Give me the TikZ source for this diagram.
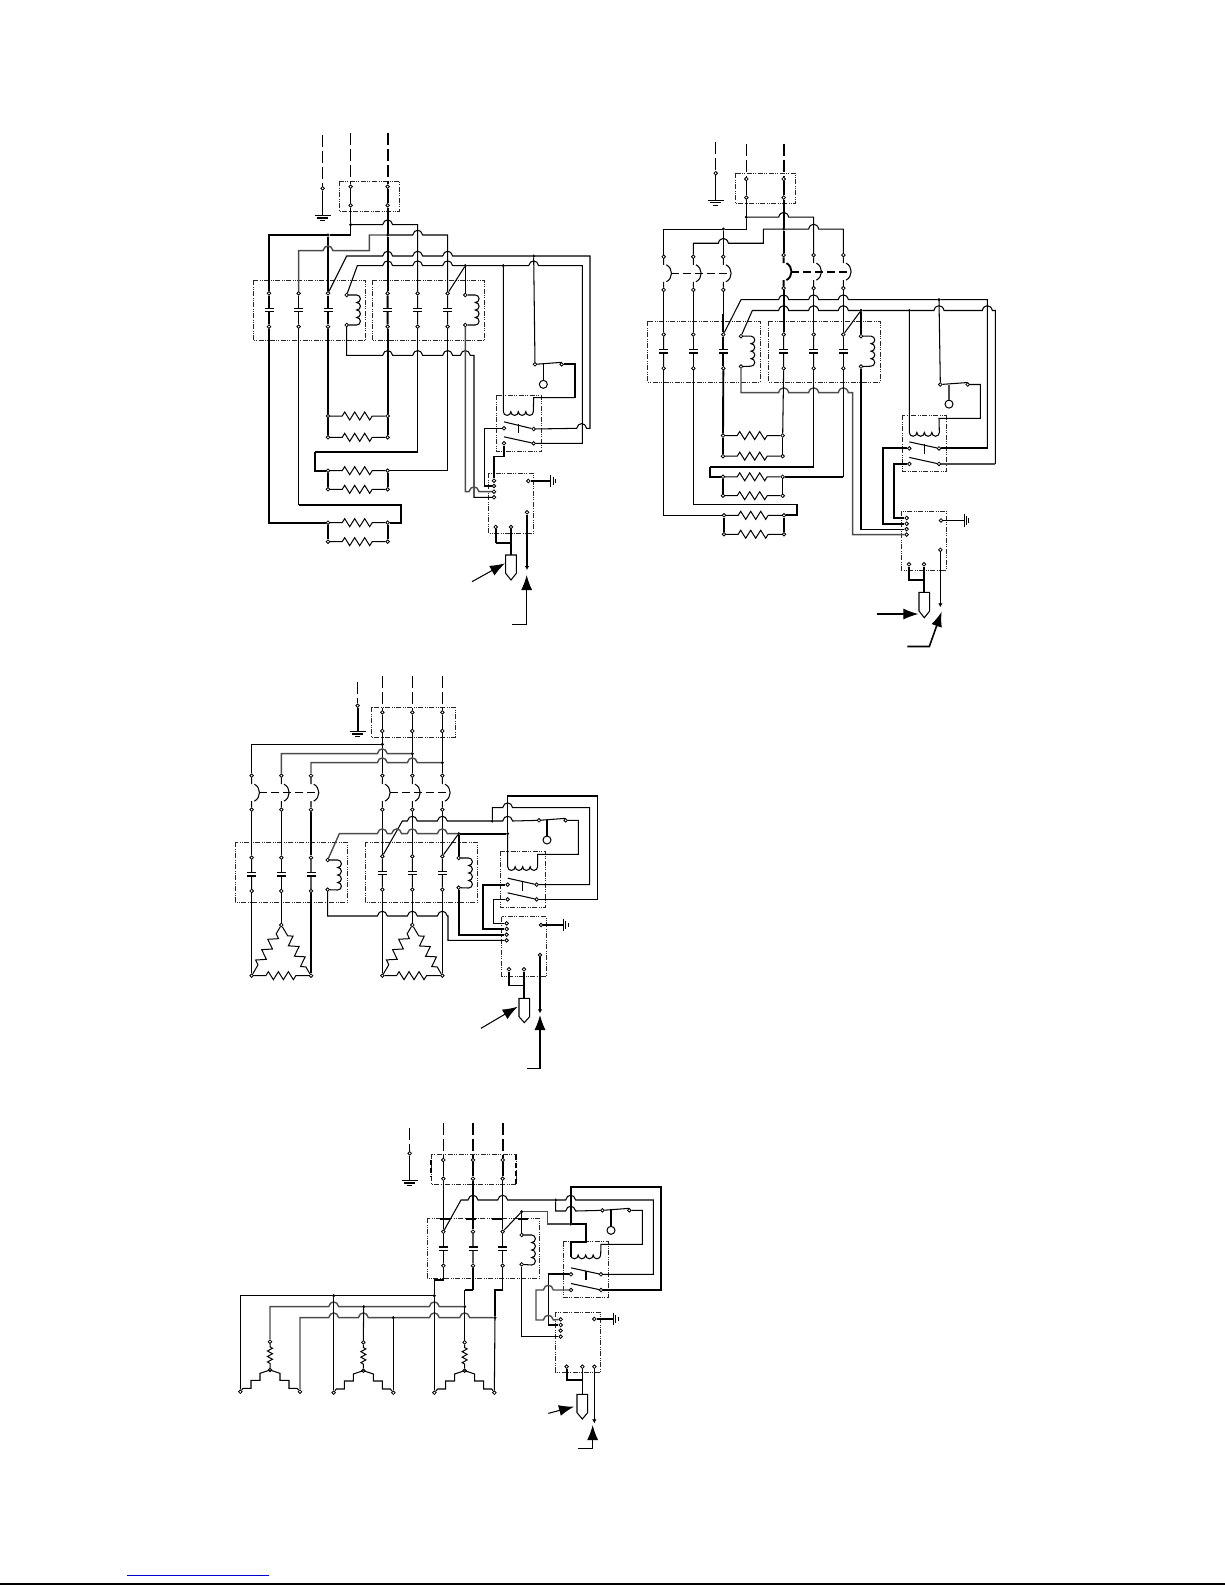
\documentclass[tikz,border=0pt]{standalone}
\usepackage{amsmath}
\usepackage{tikz}
\usetikzlibrary{arrows.meta,calc,decorations.pathmorphing}
\tikzset{
	term/.style     = {draw, circle, fill = white, inner sep = 0pt, minimum size = 3.6pt, line width = 0.8pt},
	jdot/.style     = {draw, circle, fill = black, inner sep = 0pt, minimum size = 2.6pt},
	lamp/.style     = {draw, circle, inner sep = 0pt, minimum size = 8pt, line width = 1pt},
	wire/.style     = {line width = 1.05pt},
	boldw/.style    = {line width = 1.9pt},
	greyw/.style    = {line width = 1.4pt, color = black!70},
	feed/.style     = {line width = 1.05pt, dash pattern = on 12pt off 4pt},
	feedb/.style    = {line width = 1.8pt, dash pattern = on 12pt off 4pt},
	boxd/.style     = {line width = 0.55pt, color = black!85, dash pattern = on 5pt off 1.5pt on 1pt off 1pt on 1pt off 1.5pt},
	boxb/.style     = {line width = 1.7pt},
	linkd/.style    = {line width = 1pt, dash pattern = on 8pt off 4pt},
	linkb/.style    = {line width = 1.8pt, dash pattern = on 8pt off 4pt},
	zig/.style      = {line width = 1pt, decorate, decoration = {zigzag, segment length = 10pt, amplitude = 4pt, pre length = 12pt, post length = 12pt}},
	zigd/.style     = {line width = 1pt, decorate, decoration = {zigzag, segment length = 12pt, amplitude = 4.5pt, pre length = 8pt, post length = 8pt}},
	zigs/.style     = {line width = 1pt, decorate, decoration = {zigzag, segment length = 5.5pt, amplitude = 2.5pt, pre length = 3pt, post length = 3pt}},
	bigarr/.style   = {line width = 1.05pt, -{Latex[length = 15pt, width = 11pt]}},
	bigarb/.style   = {line width = 1.6pt, -{Latex[length = 15pt, width = 11pt]}},
	smallarr/.style = {line width = 1.05pt, -{Latex[length = 4pt, width = 4.5pt]}},
	panel/.style    = {x = 0.33333pt, y = -0.33333pt},
	panelb/.style   = {x = 0.33333pt, y = -0.338pt}
}
\newcommand{\tm}[3]{\node[term] (#1) at (#2,#3) {};}
\newcommand{\jd}[3]{\node[jdot] (#1) at (#2,#3) {};}
\newcommand{\hop}[2]{-- ({#1-15},#2) .. controls ({#1-11},{#2-19}) and ({#1+11},{#2-19}) .. ({#1+15},#2)}
\newcommand{\hopl}[2]{-- ({#1+15},#2) .. controls ({#1+11},{#2-19}) and ({#1-11},{#2-19}) .. ({#1-15},#2)}
\newcommand{\capbr}[3][wire]{%
	\draw[#1] (#2) -- ($(#2)!.5!(#3)+(0,1.7pt)$) (#3) -- ($(#2)!.5!(#3)-(0,1.7pt)$);
	\draw[line width = 1.5pt] ($(#2)!.5!(#3)+(-4.5pt,1.7pt)$) -- ++(9pt,0) ($(#2)!.5!(#3)+(-4.5pt,-1.7pt)$) -- ++(9pt,0);}
\newcommand{\breaker}[3][wire]{%
	\coordinate (#2m) at ($(#2)!.5!(#3)$);
	\coordinate (#2k) at ($(#2m)+(7.5pt,0)$);
	\draw[#1] (#2) -- ($(#2m)+(0,8.5pt)$) (#3) -- ($(#2m)-(0,8.5pt)$)
	($(#2m)+(2.7pt,8.5pt)$) .. controls ($(#2m)+(9.5pt,5pt)$) and ($(#2m)+(9.5pt,-5pt)$) .. ($(#2m)+(2.7pt,-8.5pt)$);}
\newcommand{\coilv}[2]{%
	\draw[wire] (#1) -- ++(10pt,0) arc[start angle = 90, end angle = -90, radius = 3.75pt]
	arc[start angle = 90, end angle = -90, radius = 3.75pt]
	arc[start angle = 90, end angle = -90, radius = 3.75pt]
	arc[start angle = 90, end angle = -90, radius = 3.75pt] -- (#2);}
\newcommand{\hcoil}{arc[start angle = 180, end angle = 360, radius = 3.75pt] arc[start angle = 180, end angle = 360, radius = 3.75pt] arc[start angle = 180, end angle = 360, radius = 3.75pt] arc[start angle = 180, end angle = 360, radius = 3.75pt]}
\newcommand{\blade}[2]{\draw[wire] ($(#1)+(0,6.5pt)$) -- (#2);}
\newcommand{\gndd}[2]{\draw[wire] ({#1-24},#2) -- ({#1+24},#2) ({#1-16},{#2+7}) -- ({#1+16},{#2+7}) ({#1-8},{#2+14}) -- ({#1+8},{#2+14});}
\newcommand{\gndr}[2]{\draw[line width = 0.7pt] (#1,{#2-19}) -- (#1,{#2+19}) ({#1+7},{#2-13}) -- ({#1+7},{#2+13}) ({#1+14},{#2-7}) -- ({#1+14},{#2+7});}
\newcommand{\fuse}[3]{%
	\draw[wire] ({#1-16},#2) -- ({#1+16},#2) -- ({#1+16},{#2+55}) -- (#1,#3) -- ({#1-16},{#2+55}) -- cycle;}
\newcommand{\res}[2]{\draw[zig] (#1) -- (#2);}
\newcommand{\stairs}[3]{\draw[wire] (#1.center) -- ++({#3*10pt},-3.3pt) -- ++(0,-7pt) -- ++({#3*9pt},0) -- ++(0,-8pt) -- ++({#3*8pt},0) -- (#2);}

\begin{document}
\begin{tikzpicture}
	\useasboundingbox (0pt,0pt) rectangle (1225pt,-1585pt);

	% first panel
	\begin{scope}[shift = {(240pt,-120pt)}, panel, name prefix = a-]
	\tm{g}{248}{205} \tm{s1}{332}{200} \tm{s2}{332}{256} \tm{s3}{443}{200} \tm{s4}{443}{256}
	\tm{k1t}{87}{520} \tm{k2t}{176}{520} \tm{k3t}{264}{520} \tm{k4t}{443}{520} \tm{k5t}{533}{520} \tm{k6t}{623}{520}
	\tm{k1b}{87}{620} \tm{k2b}{176}{620} \tm{k3b}{264}{620} \tm{k4b}{443}{620} \tm{k5b}{533}{620} \tm{k6b}{623}{620}
	\tm{c1t}{320}{525} \tm{c1b}{320}{615} \tm{c2t}{676}{525} \tm{c2b}{676}{615}
	\tm{r1l}{264}{888} \tm{r1r}{443}{888} \tm{r2l}{264}{952} \tm{r2r}{443}{952}
	\tm{r3l}{264}{1052} \tm{r3r}{443}{1052} \tm{r4l}{264}{1108} \tm{r4r}{443}{1108}
	\tm{r5l}{264}{1208} \tm{r5r}{443}{1208} \tm{r6l}{264}{1265} \tm{r6r}{443}{1265}
	\tm{q1}{885}{733} \tm{q2}{965}{733} \node[lamp] (lp) at (910,793) {};
	\tm{u1}{792}{925} \tm{u2}{881}{927} \tm{u3}{792}{970} \tm{u4}{881}{970}
	\tm{x1}{762}{1082} \tm{x2}{762}{1098} \tm{x3}{762}{1115} \tm{x4}{762}{1132}
	\tm{y1}{865}{1083} \tm{y2}{861}{1177} \tm{y3}{767}{1221} \tm{y4}{813}{1221}
	\jd{j1}{332}{314} \jd{j2}{264}{345} \jd{j3}{443}{345} \jd{j4}{881}{408} \jd{j5}{676}{437} \jd{j6}{790}{437}
	\coordinate (fu) at (813,1305);
	\coordinate (f1) at (248,45); \coordinate (f2) at (332,40); \coordinate (f3) at (443,40);

	\draw[boxd] (298,183) rectangle (478,274);
	\draw[boxd] (40,480) rectangle (377,662);
	\draw[boxd] (397,480) rectangle (734,662);
	\draw[boxd] (768,826) rectangle (905,995);
	\draw[boxd] (745,1060) rectangle (880,1241);

	\draw[feed] (f1) -- (g); \draw[feed] (f2) -- (s1); \draw[feedb] (f3) -- (s3);
	\draw[wire] (g) -- (248,287); \gndd{248}{287}
	\draw[wire] (s1) -- (s2); \draw[boldw] (s3) -- (s4);
	\draw[wire] (s2) -- (j1); \draw[boldw] (s4) -- (j3);
	\draw[wire] (j1) |- (j2);
	\draw[boldw] (j2) -| (k1t);
	\draw[wire] (j2) -- (k3t);
	\draw[wire] (j1) \hop{443}{314} -| (k5t);
	\draw[greyw] (j3) -- (388,345) -- (388,392) \hopl{264}{392} -| (k2t);
	\draw[wire] (j3) \hop{533}{345} -| (k6t);
	\draw[boldw] (j3) -- (k4t);
	\draw[wire] (k3t) -- (320,408) \hop{443}{408} \hop{533}{408} \hop{623}{408} -- (j4) -- (1050,408) -- (1050,925) \hopl{1025}{925} -- (u2);
	\draw[wire] (c1t) -- (352,437) \hop{443}{437} \hop{533}{437} \hop{623}{437} -- (j5) -- (j6) \hop{881}{437} -- (1027,437) |- (u4);
	\draw[wire] (j5) -- (k6t); \draw[wire] (j5) -- (c2t);
	\capbr[boldw]{k1t}{k1b} \capbr{k2t}{k2b} \capbr{k3t}{k3b} \capbr[boldw]{k4t}{k4b} \capbr{k5t}{k5b} \capbr{k6t}{k6b}
	\coilv{c1t}{c1b} \coilv{c2t}{c2b}
	\draw[wire] (c1b) -- (320,706) \hop{443}{706} \hop{533}{706} \hop{623}{706} \hop{676}{706} -- (702,706) |- (x4);
	\draw[greyw] (c2b) -- (676,1115) \hop{702}{1115} -- (x3);
	\draw[boldw] (k1b) |- (r5l);
	\draw[wire] (k2b) -- (176,1155);
	\draw[boldw] (176,1155) -- (484,1155) |- (r5r);
	\draw[wire] (k3b) -- (r1l); \draw[boldw] (k4b) -- (r1r);
	\draw[wire] (r1l) -- (r2l); \draw[boldw] (r1r) -- (r2r);
	\draw[wire] (k5b) -- (533,996) -- (224,996);
	\draw[boldw] (224,996) |- (r3l);
	\draw[wire] (k6b) |- (r3r);
	\draw[wire] (r3l) -- (r4l); \draw[boldw] (r3r) -- (r4r);
	\draw[wire] (r5l) -- (r6l); \draw[boldw] (r5r) -- (r6r);
	\res{r1l}{r1r} \res{r2l}{r2r} \res{r3l}{r3r} \res{r4l}{r4r} \res{r5l}{r5r} \res{r6l}{r6r}
	\draw[wire] (j4) -- (q1); \draw[wire] (q1) -- ($(q2)+(0,2pt)$);
	\draw[wire] (lp |- q1) -- (lp);
	\draw[wire] (j6) -- (790,875) \hcoil -- (881,833) -- (1005,833);
	\draw[boldw] (1005,833) |- (q2);
	\blade{u1}{u2} \blade{u3}{u4} \draw[wire] (835,913) -- (835,940);
	\draw[wire] (u1) -- (733,925) |- (x2);
	\draw[wire] (u3) -- (792,1010) -- (762,1010) -- (x1);
	\draw[wire] (y1) -- (932,1083); \gndr{932}{1083}
	\draw[boldw] (y3) -- (767,1270); \draw[boldw] (767,1270) -- (813,1270);
	\draw[wire] (y4) -- (fu);
	\fuse{813}{1305}{1380}
	\draw[smallarr] (y2) -- (861,1350);
	\coordinate (p1) at (696,1385); \coordinate (p2) at (795,1330);
	\coordinate (p3) at (817,1513); \coordinate (p4) at (860,1513); \coordinate (p5) at (860,1365);
	\draw[bigarr] (p1) -- (p2);
	\draw[bigarr] (p3) -- (p4) -- (p5);
	\end{scope}

	% second panel
	\begin{scope}[shift = {(630pt,-130pt)}, panelb, name prefix = b-]
	\tm{g}{257}{128} \tm{s1}{349}{145} \tm{s2}{349}{200} \tm{s3}{461}{145} \tm{s4}{461}{200}
	\tm{m1t}{101}{375} \tm{m2t}{190}{375} \tm{m3t}{280}{375} \tm{m4t}{461}{370} \tm{m5t}{551}{370} \tm{m6t}{640}{370}
	\tm{m1b}{101}{473} \tm{m2b}{190}{473} \tm{m3b}{280}{473} \tm{m4b}{461}{468} \tm{m5b}{551}{468} \tm{m6b}{640}{468}
	\tm{k1t}{101}{605} \tm{k2t}{190}{605} \tm{k3t}{280}{605} \tm{k4t}{461}{605} \tm{k5t}{551}{605} \tm{k6t}{640}{605}
	\tm{k1b}{101}{705} \tm{k2b}{190}{705} \tm{k3b}{280}{705} \tm{k4b}{461}{705} \tm{k5b}{551}{705} \tm{k6b}{640}{705}
	\tm{c1t}{333}{610} \tm{c1b}{333}{700} \tm{c2t}{693}{610} \tm{c2b}{693}{700}
	\tm{r1l}{279}{904} \tm{r1r}{458}{904} \tm{r2l}{279}{965} \tm{r2r}{458}{965}
	\tm{r3l}{279}{1026} \tm{r3r}{458}{1026} \tm{r4l}{279}{1082} \tm{r4r}{458}{1082}
	\tm{r5l}{282}{1140} \tm{r5r}{462}{1140} \tm{r6l}{282}{1196} \tm{r6r}{462}{1196}
	\tm{q1}{931}{753} \tm{q2}{1013}{753} \node[lamp] (lp) at (957,811) {};
	\tm{u1}{838}{942} \tm{u2}{927}{942} \tm{u3}{838}{988} \tm{u4}{927}{988}
	\tm{x1}{830}{1148} \tm{x2}{830}{1165} \tm{x3}{830}{1181} \tm{x4}{830}{1197}
	\tm{y1}{933}{1155} \tm{y2}{931}{1242} \tm{y3}{837}{1285} \tm{y4}{882}{1285}
	\jd{j1}{349}{258} \jd{j2}{280}{293} \jd{j3}{461}{293} \jd{j4}{927}{502} \jd{j5}{693}{534} \jd{j6}{838}{534}
	\coordinate (fu) at (882,1368);
	\coordinate (f1) at (257,35); \coordinate (f2) at (349,40); \coordinate (f3) at (461,40);

	\draw[boxd] (317,128) rectangle (497,218);
	\draw[boxd] (52,566) rectangle (391,745);
	\draw[boxd] (415,566) rectangle (752,745);
	\draw[boxd] (817,844) rectangle (950,1010);
	\draw[boxd] (814,1128) rectangle (950,1303);

	\draw[feed] (f1) -- (g); \draw[feed] (f2) -- (s1); \draw[feedb] (f3) -- (s3);
	\draw[wire] (g) -- (257,208); \gndd{257}{208}
	\draw[wire] (s1) -- (s2); \draw[boldw] (s3) -- (s4);
	\draw[wire] (s2) -- (j1); \draw[boldw] (s4) -- (j3);
	\draw[wire] (j1) |- (j2);
	\draw[wire] (j2) -| (m1t);
	\draw[wire] (j2) -- (m3t);
	\draw[wire] (j1) \hop{461}{258} -| (m5t);
	\draw[wire] (j3) -- (400,293) -- (400,335) \hopl{280}{335} -| (m2t);
	\draw[wire] (j3) \hop{551}{293} -| (m6t);
	\draw[boldw] (j3) -- (m4t);
	\breaker{m1t}{m1b} \breaker{m2t}{m2b} \breaker{m3t}{m3b}
	\breaker[boldw]{m4t}{m4b} \breaker{m5t}{m5b} \breaker{m6t}{m6b}
	\draw[linkd] (m1tk) -- (m2tk) -- (m3tk);
	\draw[linkb] (m4tk) -- (m5tk) -- (m6tk);
	\draw[wire] (m1b) -- (k1t); \draw[wire] (m2b) -- (k2t); \draw[wire] (m3b) -- (k3t);
	\draw[boldw] (280,545) -- (k3t);
	\draw[boldw] (m4b) -- (k4t); \draw[wire] (m5b) -- (k5t); \draw[wire] (m6b) -- (k6t);
	\draw[wire] (k3t) -- (333,502) \hop{461}{502} \hop{551}{502} \hop{640}{502} -- (j4) -- (1072,502) |- (u2);
	\draw[boldw] (u2) -- (1072,942);
	\draw[wire] (c1t) -- (367,534) \hop{461}{534} \hop{551}{534} \hop{640}{534} -- (j5) -- (j6) \hop{927}{534} \hop{1072}{534} -- (1096,534) -- (1096,988);
	\draw[greyw] (1096,988) -- (u4);
	\draw[wire] (j5) -- (k6t); \draw[boldw] (j5) -- (693,605) -- (c2t);
	\capbr{k1t}{k1b} \capbr{k2t}{k2b} \capbr[boldw]{k3t}{k3b} \capbr{k4t}{k4b} \capbr{k5t}{k5b} \capbr{k6t}{k6b}
	\coilv{c1t}{c1b} \coilv{c2t}{c2b}
	\draw[greyw] (c1b) -- (333,777) \hop{461}{777} \hop{551}{777} \hop{640}{777} -- (668,777) |- (x4);
	\draw[wire] (c2b) |- (x3);
	\draw[wire] (k1b) |- (r5l);
	\draw[wire] (k2b) -- (190,1108);
	\draw[boldw] (190,1108) -- (500,1108) |- (r5r);
	\draw[boldw] (k3b) -- (r1l); \draw[wire] (k4b) -- (r1r);
	\draw[boldw] (r1l) -- (r2l); \draw[wire] (r1r) -- (r2r);
	\draw[wire] (k5b) -- (551,997) -- (240,997);
	\draw[boldw] (240,997) |- (r3l);
	\draw[wire] (k6b) -- (640,1026);
	\draw[boldw] (640,1026) -- (r3r);
	\draw[boldw] (r3l) -- (r4l); \draw[wire] (r3r) -- (r4r);
	\draw[wire] (r5l) -- (r6l); \draw[boldw] (r5r) -- (r6r);
	\res{r1l}{r1r} \res{r2l}{r2r} \res{r3l}{r3r} \res{r4l}{r4r} \res{r5l}{r5r} \res{r6l}{r6r}
	\draw[wire] (j4) -- (q1); \draw[wire] (q1) -- ($(q2)+(0,2pt)$);
	\draw[greyw] (lp |- q1) -- (lp);
	\draw[wire] (j6) -- (838,895) \hcoil -- (927,853) -- (1051,853) |- (q2);
	\blade{u1}{u2} \blade{u3}{u4} \draw[wire] (883,930) -- (883,958);
	\draw[boldw] (u1) -- (758,942) |- (x2);
	\draw[boldw] (u3) -- (792,988) |- (x1);
	\draw[wire] (y1) -- (1002,1155); \gndr{1002}{1155}
	\draw[boldw] (y3) -- (837,1332) -- (882,1332);
	\draw[wire] (y4) -- (fu);
	\fuse{883}{1368}{1443}
	\draw[smallarr] (y2) -- (931,1412);
	\coordinate (p1) at (740,1432); \coordinate (p2) at (865,1432);
	\coordinate (p3) at (832,1528); \coordinate (p4) at (898,1528); \coordinate (p5) at (935,1425);
	\draw[bigarr] (p1) -- (p2);
	\draw[bigarb] (p3) -- (p4) -- (p5);
	\end{scope}

	% third panel
	\begin{scope}[shift = {(220pt,-660pt)}, panel, name prefix = c-]
	\tm{g}{413}{137} \tm{s1}{487}{157} \tm{s2}{487}{213} \tm{s3}{577}{157} \tm{s4}{577}{213} \tm{s5}{667}{157} \tm{s6}{667}{213}
	\tm{m1t}{95}{347} \tm{m2t}{184}{347} \tm{m3t}{273}{347} \tm{m4t}{487}{347} \tm{m5t}{577}{347} \tm{m6t}{667}{347}
	\tm{m1b}{95}{449} \tm{m2b}{184}{449} \tm{m3b}{273}{449} \tm{m4b}{487}{449} \tm{m5b}{577}{449} \tm{m6b}{667}{449}
	\tm{k1t}{95}{593} \tm{k2t}{184}{593} \tm{k3t}{273}{593} \tm{k4t}{487}{589} \tm{k5t}{577}{589} \tm{k6t}{667}{589}
	\tm{k1b}{95}{693} \tm{k2b}{184}{693} \tm{k3b}{273}{693} \tm{k4b}{487}{689} \tm{k5b}{577}{689} \tm{k6b}{667}{689}
	\tm{c1t}{323}{600} \tm{c1b}{323}{689} \tm{c2t}{716}{594} \tm{c2b}{716}{683}
	\tm{v1}{184}{795} \tm{v2}{95}{947} \tm{v3}{273}{947} \tm{v4}{577}{795} \tm{v5}{487}{947} \tm{v6}{667}{947}
	\tm{q1}{957}{481} \tm{q2}{1037}{481} \node[lamp] (lp) at (981,540) {};
	\tm{u1}{863}{674} \tm{u2}{950}{674} \tm{u3}{863}{718} \tm{u4}{950}{718}
	\tm{x1}{860}{790} \tm{x2}{860}{807} \tm{x3}{860}{824} \tm{x4}{860}{841}
	\tm{y1}{963}{795} \tm{y2}{960}{885} \tm{y3}{867}{928} \tm{y4}{912}{928}
	\jd{j1}{487}{253} \jd{j2}{577}{281} \jd{j3}{667}{308} \jd{j4}{817}{483} \jd{j5}{716}{521} \jd{j6}{863}{521}
	\coordinate (fu) at (912,1015);
	\coordinate (f0) at (413,65); \coordinate (f1) at (487,48); \coordinate (f2) at (577,48); \coordinate (f3) at (667,48);

	\draw[boxd] (454,142) rectangle (706,232);
	\draw[boxd] (46,547) rectangle (382,727);
	\draw[boxd] (436,547) rectangle (772,727);
	\draw[boxd] (840,574) rectangle (976,742);
	\draw[boxd] (845,770) rectangle (980,949);

	\draw[feed] (f0) -- (g); \draw[feed] (f1) -- (s1); \draw[feed] (f2) -- (s3); \draw[feed] (f3) -- (s5);
	\draw[boldw] (g) -- (413,215); \gndd{413}{215}
	\draw[wire] (s1) -- (s2); \draw[wire] (s3) -- (s4); \draw[wire] (s5) -- (s6);
	\draw[wire] (s2) -- (j1); \draw[wire] (s4) -- (j2); \draw[wire] (s6) -- (j3);
	\draw[wire] (j1) -- (m4t); \draw[wire] (j2) -- (m5t); \draw[wire] (j3) -- (m6t);
	\draw[wire] (j1) -| (m1t);
	\draw[greyw] (j2) \hopl{487}{281} -| (m2t);
	\draw[greyw] (j3) \hopl{577}{308} \hopl{487}{308} -| (m3t);
	\breaker{m1t}{m1b} \breaker{m2t}{m2b} \breaker{m3t}{m3b} \breaker{m4t}{m4b} \breaker{m5t}{m5b} \breaker{m6t}{m6b}
	\draw[linkd] (m1tk) -- (m2tk) -- (m3tk);
	\draw[linkd] (m4tk) -- (m5tk) -- (m6tk);
	\draw[wire] (m1b) -- (k1t); \draw[wire] (m2b) -- (k2t); \draw[wire] (m3b) -- (k3t);
	\draw[wire] (m4b) -- (k4t); \draw[wire] (m5b) -- (k5t); \draw[wire] (m6b) -- (k6t);
	\draw[wire] (k4t) -- (547,483) \hop{577}{483} \hop{667}{483} -- (j4) \hop{863}{483} -- (q1);
	\draw[wire] (j4) -- (817,443) \hop{863}{443} -- (1109,443) |- (u2);
	\draw[greyw] (c1t) -- (358,521) \hop{487}{521} \hop{530}{521} \hop{577}{521} \hop{667}{521} -- (j5);
	\draw[boldw] (j5) -- (j6);
	\draw[wire] (j5) -- (k6t); \draw[boldw] (j5) -- (c2t);
	\draw[wire] (j6) -- (863,408) -- (1132,408) |- (u4);
	\capbr{k1t}{k1b} \capbr{k2t}{k2b} \capbr{k3t}{k3b} \capbr{k4t}{k4b} \capbr{k5t}{k5b} \capbr{k6t}{k6b}
	\coilv{c1t}{c1b} \coilv{c2t}{c2b}
	\draw[wire] (c1b) -- (323,768) \hop{487}{768} \hop{577}{768} \hop{667}{768} -- (684,768) |- (x4);
	\draw[boldw] (c2b) |- (x3);
	\draw[wire] (k1b) -- (v2); \draw[wire] (k2b) -- (v1); \draw[wire] (k3b) -- (v3);
	\draw[wire] (k4b) -- (v5); \draw[wire] (k5b) -- (v4); \draw[wire] (k6b) -- (v6);
	\draw[zigd] (v1) -- (v2); \draw[zig] (v2) -- (v3); \draw[zigd] (v3) -- (v1);
	\draw[zigd] (v4) -- (v5); \draw[zig] (v5) -- (v6); \draw[zigd] (v6) -- (v4);
	\draw[wire] (q1) -- ($(q2)+(0,2pt)$);
	\draw[wire] (lp |- q1) -- (lp);
	\draw[wire] (j6) -- (863,620) \hcoil -- (953,583) -- (1075,583) |- (q2);
	\blade{u1}{u2} \blade{u3}{u4} \draw[wire] (907,665) -- (907,692);
	\draw[boldw] (u1) -- (790,674) |- (x2);
	\draw[wire] (u3) -- (820,718) |- (x1);
	\draw[boldw] (y1) -- (1030,795); \gndr{1030}{795}
	\draw[wire] (y3) -- (867,977) -- (912,977);
	\draw[wire] (y4) -- (fu);
	\fuse{913}{1015}{1088}
	\draw[smallarr] (y2) -- (960,1060);
	\coordinate (p1) at (783,1105); \coordinate (p2) at (893,1040);
	\coordinate (p3) at (922,1226); \coordinate (p4) at (960,1226); \coordinate (p5) at (960,1065);
	\draw[bigarr] (p1) -- (p2);
	\draw[bigarr] (p3) -- (p4) -- (p5);
	\end{scope}

	% fourth panel
	\begin{scope}[shift = {(220pt,-1110pt)}, panel, name prefix = d-]
	\tm{g}{569}{130} \tm{s1}{670}{150} \tm{s2}{670}{206} \tm{s3}{759}{150} \tm{s4}{759}{206} \tm{s5}{848}{150} \tm{s6}{848}{206}
	\tm{k1t}{670}{365} \tm{k2t}{759}{365} \tm{k3t}{848}{365} \tm{k1b}{670}{467} \tm{k2b}{759}{467} \tm{k3b}{848}{467}
	\tm{c1t}{905}{375} \tm{c1b}{905}{463}
	\tm{w1}{150}{695} \tm{w2}{150}{780} \tm{w3}{61}{845} \tm{w4}{240}{845}
	\tm{w5}{430}{697} \tm{w6}{430}{782} \tm{w7}{341}{848} \tm{w8}{520}{848}
	\tm{w9}{734}{697} \tm{w10}{734}{782} \tm{w11}{643}{848} \tm{w12}{823}{848}
	\tm{q1}{1147}{301} \tm{q2}{1228}{301} \node[lamp] (lp) at (1173,361) {};
	\tm{u1}{1053}{493} \tm{u2}{1143}{493} \tm{u3}{1053}{540} \tm{u4}{1143}{540}
	\tm{x1}{1022}{628} \tm{x2}{1022}{645} \tm{x3}{1022}{662} \tm{x4}{1022}{680}
	\tm{y1}{1123}{627} \tm{y2}{1123}{770} \tm{y3}{1040}{770} \tm{y4}{1087}{770}
	\jd{j1}{643}{557} \jd{j2}{734}{590} \jd{j3}{825}{623} \jd{j4}{341}{557} \jd{j5}{431}{590} \jd{j6}{520}{623}
	\jd{j7}{1007}{270} \jd{j8}{905}{305} \jd{j9}{1052}{342}
	\coordinate (fu) at (1087,853);
	\coordinate (f0) at (569,55); \coordinate (f1) at (670,40); \coordinate (f2) at (759,40); \coordinate (f3) at (848,40);

	\draw[boxd] (634,133) rectangle (889,224);
	\draw[boxd] (622,325) rectangle (958,505);
	\draw[boxd] (1030,395) rectangle (1165,562);
	\draw[boxd] (1007,606) rectangle (1142,786);
	\draw[boxb, dash pattern = on 5pt off 3pt] (634,150) -- (634,200) (889,135) -- (889,222);
	\draw[boxb, dash pattern = on 10pt off 16pt] (660,327) -- (925,327);

	\draw[feed] (f0) -- (g); \draw[feed] (f1) -- (s1); \draw[feed] (f2) -- (s3); \draw[feedb] (f3) -- (s5);
	\draw[wire] (g) -- (569,212); \gndd{569}{212}
	\draw[wire] (s1) -- (s2); \draw[wire] (s3) -- (s4); \draw[boldw] (s5) -- (s6);
	\draw[wire] (s2) -- (k1t); \draw[wire] (s4) -- (k2t); \draw[wire] (s6) -- (k3t);
	\draw[wire] (k1t) -- (723,270) \hop{759}{270} \hop{848}{270} -- (j7) \hop{1052}{270} -- (1300,270) |- (u2);
	\draw[wire] (j7) -- (1007,303) \hop{1052}{303} -- (q1);
	\draw[wire] (k3t) -- (j8);
	\draw[greyw] (j8) -- (983,305) -- (983,342) -- (j9);
	\draw[wire] (j8) -- (c1t);
	\draw[boldw] (j9) -- (1052,230) -- (1322,230) |- (u4);
	\draw[boldw] (j9) -- (1098,342) -- (1098,395) -- (1052,395) -- (1052,440);
	\capbr{k1t}{k1b} \capbr{k2t}{k2b} \capbr{k3t}{k3b}
	\coilv{c1t}{c1b}
	\draw[wire] (c1b) |- (x4);
	\draw[wire] (k1b) -- (670,510) -- (643,510) -- (j1);
	\draw[wire] (k2b) -- (759,540);
	\draw[boldw] (759,540) -- (734,540);
	\draw[wire] (734,540) -- (j2);
	\draw[wire] (k3b) -- (848,540) -- (825,540) -- (j3);
	\draw[wire] (j1) -- (j4) -| (w3);
	\draw[greyw] (j2) \hopl{643}{590} -- (j5) \hopl{341}{590} -| (w1);
	\draw[greyw] (j3) \hopl{734}{623} \hopl{643}{623} -- (j6) \hopl{430}{623} \hopl{341}{623} -| (w4);
	\draw[wire] (j1) -- (w11); \draw[wire] (j2) -- (w9); \draw[wire] (j3) -- (w12);
	\draw[wire] (j4) -- (w7); \draw[wire] (j5) -- (w5); \draw[wire] (j6) -- (w8);
	\draw[zigs] (w1) -- (w2); \stairs{w2}{w3}{-1} \stairs{w2}{w4}{1}
	\draw[zigs] (w5) -- (w6); \stairs{w6}{w7}{-1} \stairs{w6}{w8}{1}
	\draw[zigs] (w9) -- (w10); \stairs{w10}{w11}{-1} \stairs{w10}{w12}{1}
	\draw[wire] (q1) -- ($(q2)+(0,2pt)$);
	\draw[wire] (lp |- q1) -- (lp);
	\draw[wire] (1052,435) \hcoil -- (1143,403) -- (1267,403) |- (q2);
	\blade{u1}{u2} \blade{u3}{u4} \draw[boldw] (1098,483) -- (1098,510);
	\draw[boldw] (u1) -- (985,493);
	\draw[wire] (985,493) -- (985,645) -- (x2);
	\draw[greyw] (u3) \hopl{985}{540} -- (948,540) -- (948,630) \hop{985}{630} -- (x1);
	\draw[boldw] (y1) -- (1180,627); \gndr{1180}{627}
	\draw[boldw] (y3) -- (1040,810) -- (1087,810);
	\draw[wire] (y4) -- (fu);
	\fuse{1087}{853}{927}
	\draw[smallarr] (y2) -- (1123,940);
	\coordinate (p1) at (985,910); \coordinate (p2) at (1062,890);
	\coordinate (p3) at (1075,1015); \coordinate (p4) at (1118,1015); \coordinate (p5) at (1118,945);
	\draw[bigarr] (p1) -- (p2);
	\draw[bigarr] (p3) -- (p4) -- (p5);
	\end{scope}

	% page foot
	\coordinate (u1) at (127pt,-1575pt); \coordinate (u2) at (269pt,-1575pt);
	\coordinate (l1) at (0pt,-1584pt); \coordinate (l2) at (1225pt,-1584pt);
	\draw[line width = 1pt, color = blue!80!black] (u1) -- (u2);
	\draw[line width = 1.2pt] (l1) -- (l2);
\end{tikzpicture}
\end{document}
